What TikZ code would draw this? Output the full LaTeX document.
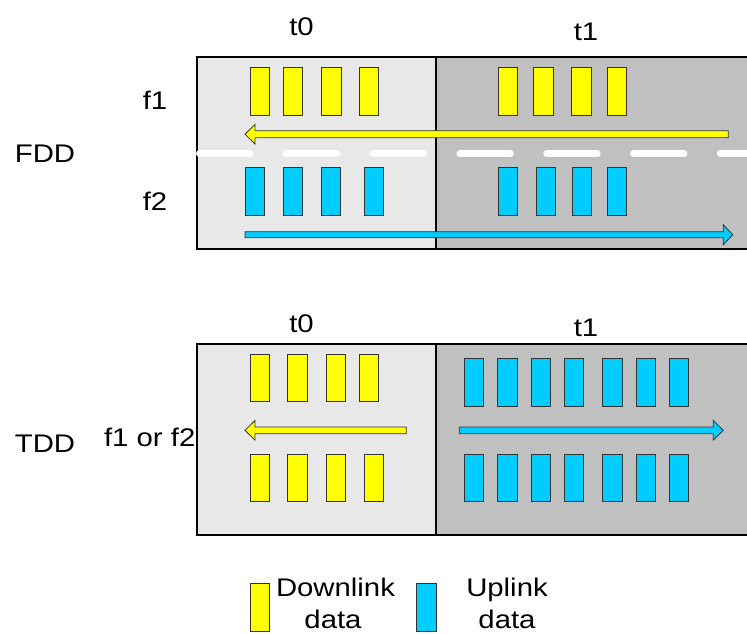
\documentclass[tikz,border=0pt]{standalone}
\usepackage{fontspec}
\setmainfont{Liberation Sans}
\definecolor{lightbg}{HTML}{E8E8E8}
\definecolor{darkbg}{HTML}{C0C0C0}
\definecolor{dlcol}{HTML}{FFFF00}
\definecolor{ulcol}{HTML}{00CCFF}
\begin{document}
\begin{tikzpicture}[x=1pt,y=-1pt,
  lbl/.style={font=\fontsize{25.5}{30}\selectfont, xscale=1.15, inner sep=0pt, anchor=base},
  dlbox/.style={fill=dlcol, draw=black!80, line width=0.8pt},
  ulbox/.style={fill=ulcol, draw=black!80, line width=0.8pt},
  frame/.style={draw=black, line width=2pt}]
\clip (0,0) rectangle (747,634);
% FDD block
\fill[lightbg] (197,57) rectangle (436,249);
\fill[darkbg] (436,57) rectangle (760,249);
\draw[frame] (760,57) -- (197,57) -- (197,249) -- (760,249);
\draw[frame] (436,57) -- (436,249);
\foreach \x in {250,283.3,321.7,359.3,498,533.7,571.7,607.3}
  \draw[dlbox] (\x,67.3) rectangle ++(19.3,48);
\foreach \x in {245,283.3,321.3,364.3,498,536,572,607.3}
  \draw[ulbox] (\x,167.7) rectangle ++(19.3,48);
\draw[dlbox] (728.3,130.7) -- (255,130.7) -- (255,124.4) -- (245,134.2) -- (255,144) -- (255,137.7) -- (728.3,137.7) -- cycle;
\draw[ulbox] (245,231.7) -- (723.3,231.7) -- (723.3,224.7) -- (732.7,234.7) -- (723.3,244.7) -- (723.3,237.7) -- (245,237.7) -- cycle;
\draw[white, line width=7pt, line cap=round, dash pattern=on 50.5pt off 36.3pt] (199.5,153.7) -- (760,153.7);
% TDD block
\fill[lightbg] (197,344) rectangle (436,535);
\fill[darkbg] (436,344) rectangle (760,535);
\draw[frame] (760,344) -- (197,344) -- (197,535) -- (760,535);
\draw[frame] (436,344) -- (436,535);
\foreach \x in {250,287.7,326,359.3}
  \draw[dlbox] (\x,354) rectangle ++(19.3,47.7);
\foreach \x in {250,287.7,326,364}
  \draw[dlbox] (\x,454) rectangle ++(19.3,47.7);
\foreach \x in {464.3,497.7,531,564.3,602.7,636,669.3} {
  \draw[ulbox] (\x,358.7) rectangle ++(19.3,47.7);
  \draw[ulbox] (\x,454) rectangle ++(19.3,47.7);
}
\draw[dlbox] (406.3,427) -- (255,427) -- (255,420.5) -- (245,430.3) -- (255,440.1) -- (255,433.7) -- (406.3,433.7) -- cycle;
\draw[ulbox] (459.3,427) -- (713.3,427) -- (713.3,420.5) -- (723.3,430.3) -- (713.3,440.1) -- (713.3,433.7) -- (459.3,433.7) -- cycle;
% legend
\draw[dlbox] (250.7,583) rectangle (269.3,631);
\draw[ulbox] (416.7,583) rectangle (436,631);
% labels
\node[lbl] (t0a) at (301.5,36) {t0};
\node[lbl] (t1a) at (586,40.7) {t1};
\node[lbl] (t0b) at (301.5,332.7) {t0};
\node[lbl] (t1b) at (586,336.7) {t1};
\node[lbl] (f1) at (155,110) {f1};
\node[lbl] (f2) at (155,210) {f2};
\node[lbl] (fdd) at (45,162.7) {FDD};
\node[lbl] (tdd) at (45,452) {TDD};
\node[lbl] (f12) at (149.7,446) {f1 or f2};
\node[lbl] (dl1) at (335.5,596) {Downlink};
\node[lbl] (dl2) at (333,628.5) {data};
\node[lbl] (ul1) at (507,596) {Uplink};
\node[lbl] (ul2) at (507,628.5) {data};
\end{tikzpicture}
\end{document}
